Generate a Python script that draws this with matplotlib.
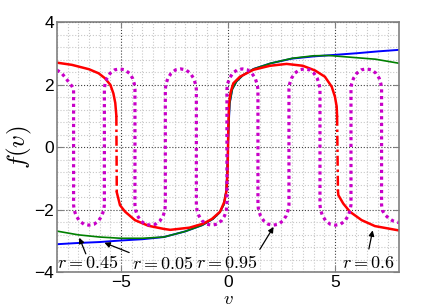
import matplotlib
matplotlib.use('Agg')
import matplotlib.pyplot as plt
from matplotlib.ticker import MultipleLocator

plt.rcParams['mathtext.fontset'] = 'cm'
plt.rcParams['font.family'] = ['Liberation Sans', 'DejaVu Sans']

# r = 0.05
blue_v = [-8.0, -7.0, -6.0, -5.0, -4.0, -3.0, -2.0, -1.2, -0.7, -0.4, -0.2, -0.08, -0.02,
          0.02, 0.08, 0.2, 0.4, 0.7, 1.2, 2.0, 3.0, 4.0, 5.0, 6.0, 7.0, 8.0]
blue_f = [-3.11, -3.07, -3.04, -2.99, -2.95, -2.88, -2.7, -2.5, -2.3, -2.1, -1.85, -1.4, -0.5,
          0.5, 1.4, 1.85, 2.1, 2.3, 2.5, 2.68, 2.83, 2.9, 2.95, 3.0, 3.06, 3.11]

# r = 0.45
green_v = [-8.0, -7.0, -6.0, -5.0, -4.0, -3.0, -2.0, -1.2, -0.7, -0.4, -0.2, -0.08, -0.02,
           0.02, 0.08, 0.2, 0.4, 0.7, 1.2, 2.0, 3.0, 4.0, 4.7, 5.8, 6.9, 8.0]
green_f = [-2.69, -2.81, -2.88, -2.92, -2.92, -2.88, -2.7, -2.5, -2.3, -2.1, -1.85, -1.4, -0.5,
           0.5, 1.4, 1.85, 2.1, 2.3, 2.5, 2.68, 2.84, 2.92, 2.93, 2.87, 2.81, 2.68]

# r = 0.6 (three branches, joined by the steep jumps)
red1_v = [-8.0, -7.3, -6.5, -6.05, -5.75, -5.5, -5.36, -5.27, -5.22]
red1_f = [2.70, 2.63, 2.49, 2.36, 2.2, 1.99, 1.72, 1.41, 1.0]
red2_v = [-5.2, -5.05, -4.81, -4.35, -3.72, -3.0, -2.7, -1.8, -1.15, -0.75, -0.37, -0.17, -0.07,
          -0.02, 0.02, 0.05, 0.12, 0.25, 0.56, 1.18, 1.96, 2.74, 3.5, 4.07, 4.53, 4.85, 5.0, 5.08, 5.1]
red2_f = [-1.45, -1.86, -2.07, -2.34, -2.52, -2.62, -2.65, -2.58, -2.45, -2.3, -2.07, -1.75, -1.4,
          -0.8, 0.8, 1.4, 1.75, 2.04, 2.25, 2.47, 2.6, 2.66, 2.6, 2.45, 2.25, 1.93, 1.61, 1.3, 1.0]
red3_v = [5.14, 5.16, 5.39, 5.7, 6.25, 6.87, 8.0]
red3_f = [-1.4, -1.54, -1.81, -2.07, -2.34, -2.53, -2.67]

# r = 0.95
mag_v = [-8.0, -7.8, -7.6, -7.45, -7.3, -7.22, -7.22,
         -7.19, -7.1, -6.95, -6.74, -6.50, -6.26, -6.05, -5.90, -5.81, -5.78, -5.78,
         -5.75, -5.66, -5.51, -5.30, -5.06, -4.82, -4.61, -4.46, -4.38, -4.35, -4.35,
         -4.32, -4.23, -4.08, -3.87, -3.63, -3.39, -3.18, -3.03, -2.95, -2.93, -2.93,
         -2.90, -2.81, -2.66, -2.45, -2.21, -1.97, -1.76, -1.61, -1.52, -1.48, -1.48,
         -1.45, -1.36, -1.21, -1.00, -0.76, -0.52, -0.31, -0.16, -0.08, -0.05, -0.05,
         -0.02, 0.07, 0.22, 0.43, 0.67, 0.91, 1.12, 1.27, 1.36, 1.40, 1.40,
         1.43, 1.52, 1.67, 1.88, 2.12, 2.36, 2.57, 2.72, 2.81, 2.85, 2.85,
         2.88, 2.97, 3.12, 3.33, 3.57, 3.81, 4.02, 4.17, 4.26, 4.30, 4.30,
         4.33, 4.42, 4.57, 4.78, 5.02, 5.26, 5.47, 5.62, 5.71, 5.75, 5.75,
         5.78, 5.87, 6.02, 6.23, 6.47, 6.71, 6.92, 7.07, 7.15, 7.18, 7.18,
         7.21, 7.33, 7.50, 7.70, 8.0]
mag_f = [2.46, 2.38, 2.22, 2.08, 1.95, 1.85, -1.85,
         -2.02, -2.2, -2.36, -2.47, -2.50, -2.47, -2.36, -2.2, -2.02, -1.85, 1.85,
         2.02, 2.2, 2.36, 2.47, 2.50, 2.47, 2.36, 2.2, 2.02, 1.85, -1.85,
         -2.02, -2.2, -2.36, -2.47, -2.50, -2.47, -2.36, -2.2, -2.02, -1.85, 1.85,
         2.02, 2.2, 2.36, 2.47, 2.50, 2.47, 2.36, 2.2, 2.02, 1.85, -1.85,
         -2.02, -2.2, -2.36, -2.47, -2.50, -2.47, -2.36, -2.2, -2.02, -1.85, 1.85,
         2.02, 2.2, 2.36, 2.47, 2.50, 2.47, 2.36, 2.2, 2.02, 1.85, -1.85,
         -2.02, -2.2, -2.36, -2.47, -2.50, -2.47, -2.36, -2.2, -2.02, -1.85, 1.85,
         2.02, 2.2, 2.36, 2.47, 2.50, 2.47, 2.36, 2.2, 2.02, 1.85, -1.85,
         -2.02, -2.2, -2.36, -2.47, -2.50, -2.47, -2.36, -2.2, -2.02, -1.85, 1.85,
         2.02, 2.2, 2.36, 2.47, 2.50, 2.47, 2.36, 2.2, 2.02, 1.85, -1.85,
         -2.02, -2.16, -2.27, -2.36, -2.42]

# labels: text, text position, arrow tail, arrow target
labels = [r'$r=0.45$', r'$r=0.05$', r'$r=0.95$', r'$r=0.6$']
label_xy = [(-6.57, -3.72), (-3.04, -3.75), (-0.07, -3.72), (6.55, -3.72)]
tail_xy = [(-6.6, -3.5), (-4.5, -3.41), (1.42, -3.35), (6.56, -3.35)]
head_xy = [(-7.0, -2.82), (-5.9, -3.03), (2.2, -2.48), (6.79, -2.58)]

fig = plt.figure(figsize=(4.41, 3.06), dpi=100)
ax = fig.add_axes([0.129, 0.111, 0.776, 0.817])

ax.plot(blue_v, blue_f, color='#0000ff', lw=1.4)
ax.plot(green_v, green_f, color='#008000', lw=1.2)
red = '#ff0000'
ax.plot(red1_v, red1_f, color=red, lw=1.8)
ax.plot(red2_v, red2_f, color=red, lw=1.8)
ax.plot(red3_v, red3_f, color=red, lw=1.8)
ax.plot([red1_v[-1], red2_v[0]], [red1_f[-1], red2_f[0]], color=red, lw=1.8, ls=(0, (4, 1.5, 1, 1.5)))
ax.plot([red2_v[-1], red3_v[0]], [red2_f[-1], red3_f[0]], color=red, lw=1.8, ls=(0, (4, 1.5, 1, 1.5)))
ax.plot(mag_v, mag_f, color='#c800c8', lw=2.3, ls=(0, (1, 1.1)))

for txt, (tx, ty), (ax0, ay0), (hx, hy) in zip(labels, label_xy, tail_xy, head_xy):
    ax.text(tx, ty, txt, fontsize=13, ha='center', va='center')
    ax.annotate('', xy=(hx, hy), xytext=(ax0, ay0),
                arrowprops=dict(arrowstyle='-|>', color='black', lw=0.9, mutation_scale=8))

ax.set_xlim(-8, 8)
ax.set_ylim(-4, 4)
ax.xaxis.set_major_locator(MultipleLocator(5))
ax.xaxis.set_minor_locator(MultipleLocator(0.5))
ax.yaxis.set_major_locator(MultipleLocator(2))
ax.yaxis.set_minor_locator(MultipleLocator(0.4))
ax.grid(which='minor', color='#c8c8c8', ls=':', lw=0.8)
ax.grid(which='major', color='#404040', ls=':', lw=0.8)
ax.set_axisbelow(True)
ax.tick_params(which='major', direction='in', length=4, top=True, right=True,
               labelsize=12.5, color='#808080', pad=2)
ax.tick_params(which='minor', length=0)
for s in ax.spines.values():
    s.set_color('#808080')
    s.set_linewidth(1.2)

ax.set_xlabel(r'$v$', fontsize=13.5)
ax.xaxis.set_label_coords(0.5, -0.074)
ax.set_ylabel(r'$f(v)$', fontsize=18, labelpad=0)

fig.savefig('out.png', dpi=100)
